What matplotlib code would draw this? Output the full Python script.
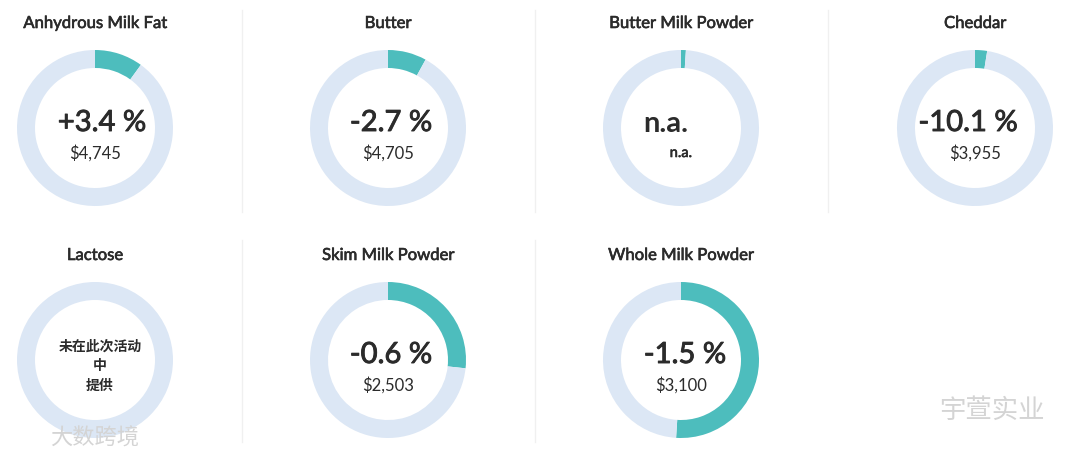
import matplotlib.pyplot as plt
import matplotlib.patheffects as pe
from matplotlib.lines import Line2D

# data
products = ['Anhydrous Milk Fat', 'Butter', 'Butter Milk Powder', 'Cheddar',
            'Lactose', 'Skim Milk Powder', 'Whole Milk Powder']
shares = [10, 8, 1, 2.5, 0, 26.7, 51]          # teal arc, % of the ring
changes = ['+3.4 %', '-2.7 %', 'n.a.', '-10.1 %', None, '-0.6 %', '-1.5 %']
prices = ['$4,745', '$4,705', 'n.a.', '$3,955', None, '$2,503', '$3,100']
lactose_note = '未在此次活动\n中\n提供'

W, H = 1080, 458
TEAL = '#4dbdbd'
RING = '#dce7f5'
TXT = '#2b2b2b'

plt.rcParams['font.family'] = ['Lato', 'Noto Sans CJK SC', 'DejaVu Sans']

fig = plt.figure(figsize=(W / 100, H / 100), dpi=100)
fig.patch.set_facecolor('white')

col_x = [95, 388, 681, 975]
row_y = [128, 360]
title_y = [23, 255]
text_dx = [7, 3, -15, -7, 5, 3, 4]   # horizontal nudge of the big centre text
R = 80  # axes half size in px

# regular Lato + a thin outline gives a semibold look
semi = [pe.withStroke(linewidth=0.45, foreground=TXT)]
medium = [pe.withStroke(linewidth=0.65, foreground=TXT)]

for i, name in enumerate(products):
    r, c = divmod(i, 4)
    cx, cy = col_x[c], row_y[r]
    ax = fig.add_axes([(cx - R) / W, 1 - (cy + R) / H, 2 * R / W, 2 * R / H])
    ax.pie([shares[i], 100 - shares[i]], colors=[TEAL, RING], startangle=90,
           counterclock=False, radius=78 / R,
           wedgeprops=dict(width=18 / R, linewidth=0))
    ax.set_xlim(-1, 1)
    ax.set_ylim(-1, 1)
    ax.set_aspect('equal')
    ax.axis('off')

    fig.text(cx / W, 1 - title_y[r] / H, name, ha='center', va='center',
             fontsize=12, color=TXT, path_effects=semi)

    tx = (cx + text_dx[i]) / W
    if changes[i] is None:
        fig.text(tx, 1 - (cy + 6) / H, lactose_note, ha='center',
                 va='center', fontsize=10, fontweight='bold', color=TXT,
                 family=['Noto Sans CJK SC', 'DejaVu Sans'], linespacing=1.5)
    elif changes[i] == 'n.a.':
        fig.text(tx, 1 - (cy - 4) / H, changes[i], ha='center',
                 va='center', fontsize=21, fontweight='bold', color=TXT)
        fig.text(cx / W, 1 - (cy + 25) / H, prices[i], ha='center',
                 va='center', fontsize=10.5, color=TXT, path_effects=semi)
    else:
        fig.text(tx, 1 - (cy - 5) / H, changes[i], ha='center',
                 va='center', fontsize=21, color=TXT, path_effects=medium)
        fig.text(cx / W, 1 - (cy + 25) / H, prices[i], ha='center',
                 va='center', fontsize=12, color=TXT)

# column separators
for x in [242, 535, 828]:
    fig.add_artist(Line2D([x / W, x / W], [1 - 10 / H, 1 - 212 / H],
                          color='#f0f0f0', lw=1))
for x in [242, 535]:
    fig.add_artist(Line2D([x / W, x / W], [1 - 240 / H, 1 - 442 / H],
                          color='#f0f0f0', lw=1))

# watermarks
fig.text(95 / W, 1 - 438 / H, '大数跨境', ha='center', va='center',
         fontsize=16, color='#d4d4d4', family=['Noto Sans CJK SC'])
fig.text(992 / W, 1 - 410 / H, '宇萱实业', ha='center', va='center',
         fontsize=19, color='#d4d4d4', family=['Noto Sans CJK SC'])

fig.savefig('out.png', dpi=100, facecolor='white')
